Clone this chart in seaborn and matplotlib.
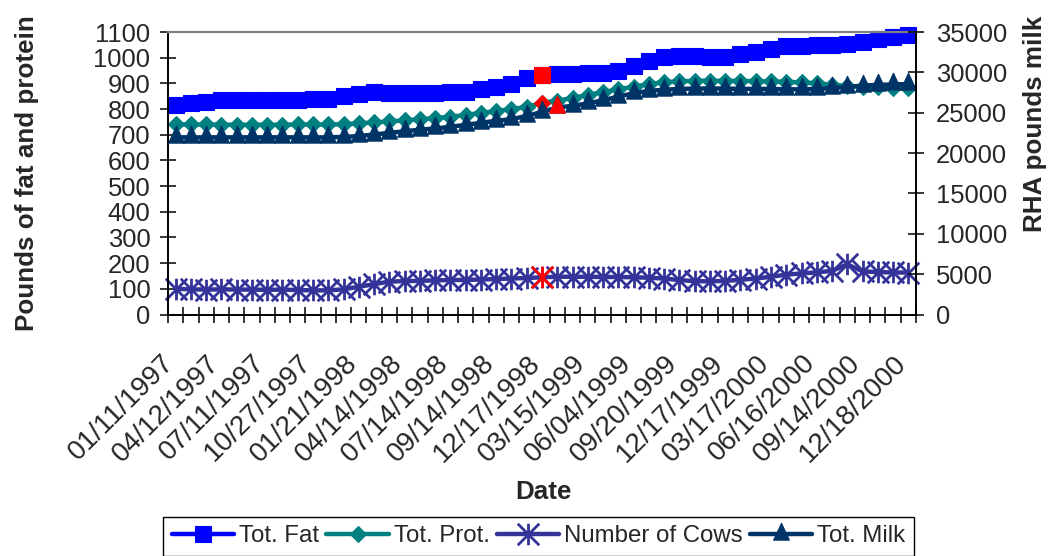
import matplotlib
matplotlib.use("Agg")
import matplotlib.pyplot as plt
import seaborn as sns
from matplotlib.path import Path
from matplotlib.transforms import ScaledTranslation

# Herd test records, one per test date (49 tests)
date_labels = ["01/11/1997", "04/12/1997", "07/11/1997", "10/27/1997", "01/21/1998",
               "04/14/1998", "07/14/1998", "09/14/1998", "12/17/1998", "03/15/1999",
               "06/04/1999", "09/20/1999", "12/17/1999", "03/17/2000", "06/16/2000",
               "09/14/2000", "12/18/2000"]
label_step = 3

tot_fat = [817, 823, 829, 835, 834, 834, 837, 837, 837, 838, 840, 849, 858, 866, 862,
           862, 862, 861, 868, 868, 878, 885, 897, 920, 933, 938, 938, 942, 942, 947,
           969, 986, 1004, 1006, 1008, 1002, 1002, 1014, 1021, 1034, 1045, 1045, 1049,
           1049, 1054, 1062, 1073, 1080, 1088]
tot_prot = [740, 740, 740, 739, 739, 739, 739, 739, 740, 740, 740, 741, 744, 748, 752,
            756, 760, 765, 770, 777, 785, 792, 800, 808, 824, 833, 843, 855, 866, 877,
            887, 897, 905, 908, 910, 910, 910, 910, 908, 908, 906, 904, 900, 895, 890,
            886, 884, 882, 882]
num_cows = [100, 98, 97, 98, 97, 97, 96, 97, 95, 94, 94, 98, 108, 118, 128, 130, 131,
            133, 134, 135, 136, 138, 140, 142, 145, 147, 147, 147, 146, 146, 145, 143,
            140, 134, 130, 129, 131, 135, 140, 147, 155, 160, 164, 170, 195, 168, 165,
            164, 163]
tot_milk = [21950, 21950, 21950, 21950, 21950, 21950, 21950, 21950, 21950, 21950, 21950,
            22000, 22100, 22300, 22500, 22700, 22900, 23050, 23250, 23500, 23750, 24000,
            24200, 24600, 25100, 25650, 25850, 26150, 26550, 27000, 27400, 27700, 27850,
            27950, 28000, 28000, 28000, 27950, 27950, 27950, 27900, 27900, 27950, 28050,
            28200, 28350, 28450, 28500, 28550]

# Tests flagged in red
flag_fat, flag_prot, flag_cows, flag_milk = 24, 24, 24, 25

series_names = ["Tot. Fat", "Tot. Prot.", "Number of Cows", "Tot. Milk"]
colors = {"fat": "#0000FF", "prot": "#008080", "cows": "#333399",
          "milk": "#003366", "flag": "#FF0000"}

idx = list(range(len(tot_fat)))

sns.set_theme(style="white")
plt.rcParams["font.family"] = ["Liberation Sans", "DejaVu Sans"]

# Marker shapes: six-armed star and a triangle centred on its centroid
star = Path([(-1, -1), (1, 1), (-1, 1), (1, -1), (0, -1), (0, 1)],
            [Path.MOVETO, Path.LINETO, Path.MOVETO, Path.LINETO, Path.MOVETO, Path.LINETO])
tri = Path([(0, 1), (-0.7, -0.5), (0.7, -0.5), (0, 1)],
           [Path.MOVETO, Path.LINETO, Path.LINETO, Path.CLOSEPOLY])

W, H = 1050, 556
fig = plt.figure(figsize=(W / 100, H / 100), dpi=100)
L, R, T, B = 168, 916, 32, 314.5
ax = fig.add_axes([L / W, 1 - B / H, (R - L) / W, (B - T) / H])
ax2 = ax.twinx()

lw = 3.2
common = dict(linewidth=lw, clip_on=False, legend=False)
sq = dict(marker="s", markersize=11.4, markeredgewidth=0.8)
dia = dict(marker="D", markersize=8.4, markeredgewidth=0.8)
stk = dict(marker=star, markersize=15.5, markerfacecolor="none", markeredgewidth=2.0)
trk = dict(marker=tri, markersize=16.2, markeredgewidth=0.8)

sns.lineplot(x=idx, y=tot_fat, ax=ax, color=colors["fat"], markeredgecolor=colors["fat"],
             label=series_names[0], **sq, **common)
sns.lineplot(x=[flag_fat], y=[tot_fat[flag_fat]], ax=ax, color=colors["flag"],
             markeredgecolor=colors["flag"], **sq, **common)

sns.lineplot(x=idx, y=tot_prot, ax=ax, color=colors["prot"], markeredgecolor=colors["prot"],
             label=series_names[1], **dia, **common)
sns.lineplot(x=[flag_prot], y=[tot_prot[flag_prot]], ax=ax, color=colors["flag"],
             markeredgecolor=colors["flag"], **dia, **common)

sns.lineplot(x=idx, y=num_cows, ax=ax, color=colors["cows"], markeredgecolor=colors["cows"],
             label=series_names[2], **stk, **common)
sns.lineplot(x=[flag_cows], y=[num_cows[flag_cows]], ax=ax, color=colors["flag"],
             markeredgecolor=colors["flag"], **stk, **common)

sns.lineplot(x=idx, y=tot_milk, ax=ax2, color=colors["milk"], markeredgecolor=colors["milk"],
             label=series_names[3], **trk, **common)
sns.lineplot(x=[flag_milk], y=[tot_milk[flag_milk]], ax=ax2, color=colors["flag"],
             markeredgecolor=colors["flag"], **trk, **common)

# Axes ranges and ticks
n = len(idx)
ax.set_xlim(-0.5, n - 0.5)
ax.set_ylim(0, 1100)
ax.set_yticks(range(0, 1101, 100))
ax2.set_ylim(0, 35000)
ax2.set_yticks(range(0, 35001, 5000))

ax.set_xticks([i - 0.5 for i in range(n + 1)])
ax.set_xticklabels([])
ax.set_xticks(list(range(0, n, label_step)), minor=True)
ax.set_xticklabels(date_labels, minor=True)

tick_len = 11.5
ax.tick_params(axis="x", which="major", direction="inout", length=tick_len, width=1.1,
               color="black", bottom=True)
ax.tick_params(axis="x", which="minor", length=0, pad=25.5, labelsize=20, bottom=True)
ax.tick_params(axis="y", direction="inout", length=tick_len, width=1.1, color="black",
               labelsize=18.4, pad=7, left=True)
ax2.tick_params(axis="y", direction="inout", length=tick_len, width=1.1, color="black",
                labelsize=18.4, pad=8.5, right=True)
label_offset = ScaledTranslation(-15 / 100, 0, fig.dpi_scale_trans)
for lbl in ax.get_xticklabels(minor=True):
    lbl.set_rotation(45)
    lbl.set_horizontalalignment("right")
    lbl.set_verticalalignment("top")
    lbl.set_rotation_mode("anchor")
    lbl.set_transform(lbl.get_transform() + label_offset)

for s in ["left", "bottom"]:
    ax.spines[s].set_color("black")
    ax.spines[s].set_linewidth(1.4)
ax.spines["right"].set_visible(False)
ax.spines["top"].set_color("#808080")
ax.spines["top"].set_linewidth(1.6)
for s in ["left", "bottom", "top"]:
    ax2.spines[s].set_visible(False)
ax2.spines["right"].set_color("black")
ax2.spines["right"].set_linewidth(1.4)

# Axis titles
title_kw = dict(fontsize=18.7, fontweight="bold")
ax.set_ylabel("Pounds of fat and protein", **title_kw)
ax.yaxis.label.set_va("center")
ax.yaxis.set_label_coords((27 - L) / (R - L), 0.5)
ax2.set_ylabel("RHA pounds milk", **title_kw)
ax2.yaxis.label.set_va("center")
ax2.yaxis.set_label_coords((1035 - L) / (R - L), (B - 123.5) / (B - T))
ax.set_xlabel("Date", **title_kw)
ax.xaxis.label.set_va("center")
ax.xaxis.set_label_coords((543 - L) / (R - L), (B - 492) / (B - T))

# Legend combining both axes
h1, l1 = ax.get_legend_handles_labels()
h2, l2 = ax2.get_legend_handles_labels()
leg = fig.legend(h1 + h2, l1 + l2, loc="upper center", bbox_to_anchor=(538.5 / W, 1 - 517 / H),
                 ncol=4, fontsize=17.3, handlelength=2.6, handletextpad=0.2,
                 columnspacing=0.3, borderpad=0.35, borderaxespad=0, fancybox=False,
                 frameon=True, framealpha=1, edgecolor="black")
leg.get_frame().set_linewidth(1.0)

fig.savefig("out.png", dpi=100)
